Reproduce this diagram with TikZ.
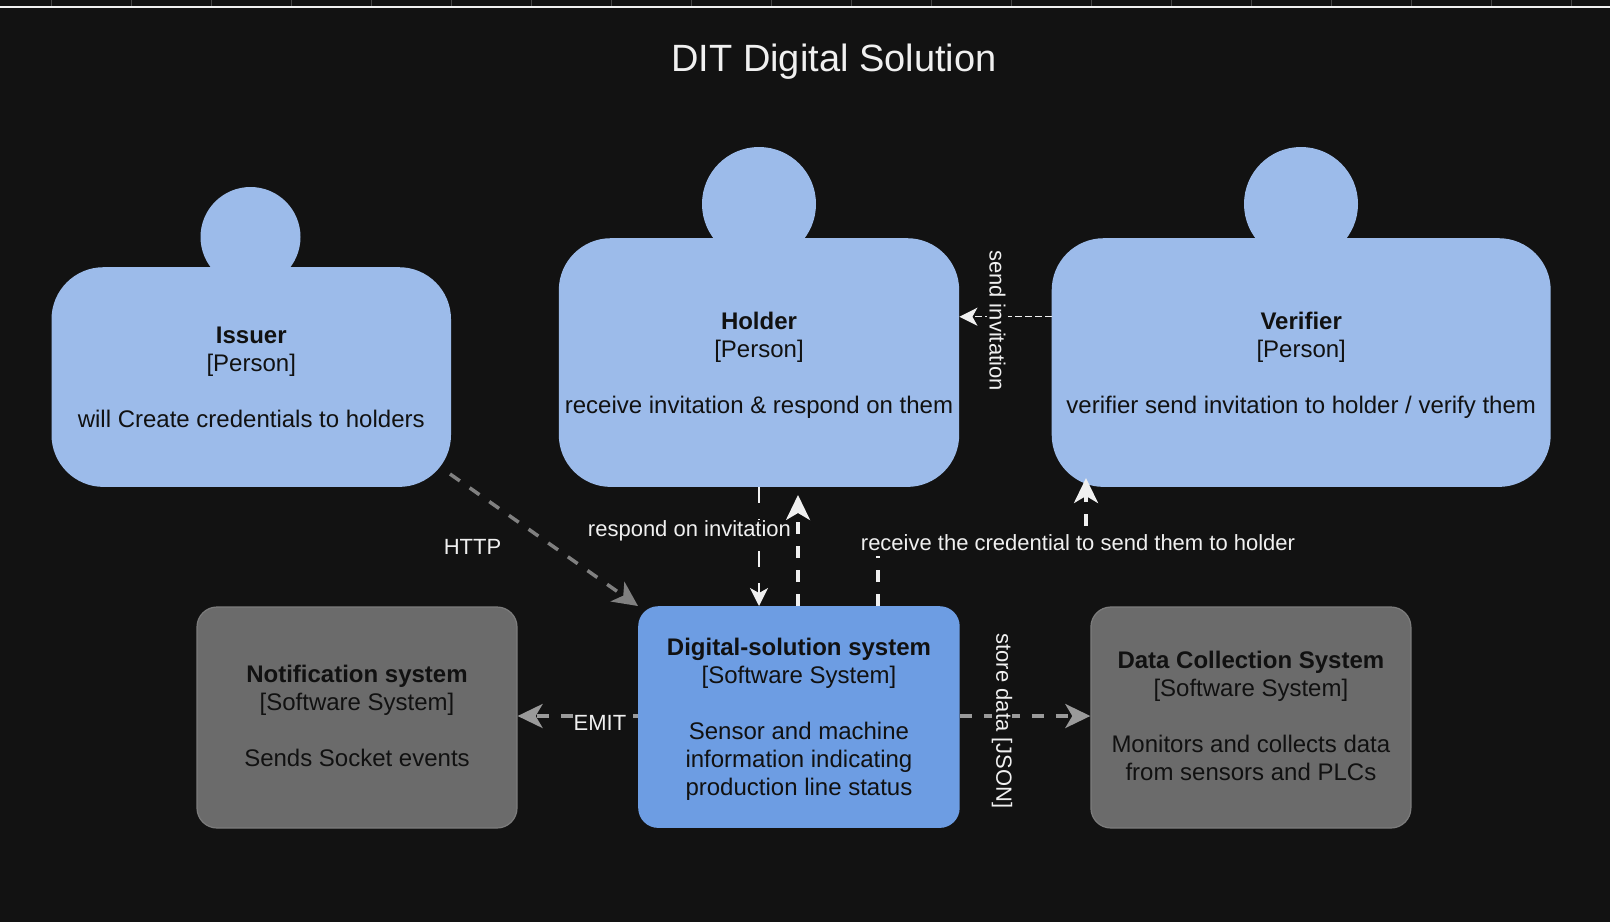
\documentclass[tikz,border=0pt]{standalone}
\usepackage{fontspec}
\setmainfont{Liberation Sans}
\usetikzlibrary{arrows.meta,positioning,calc}
\definecolor{bgc}{HTML}{121212}
\definecolor{personc}{HTML}{9CBBEA}
\definecolor{sysc}{HTML}{6D9DE3}
\definecolor{extc}{HTML}{6B6B6B}
\definecolor{extb}{HTML}{7C7C7C}
\definecolor{inkc}{HTML}{111111}
\definecolor{wc}{HTML}{F0F0F0}
\definecolor{g1}{HTML}{9A9A9A}
\definecolor{g2}{HTML}{808080}
\tikzset{
  x=1pt,y=-1pt,
  body/.style={font=\fontsize{24}{28}\selectfont,text=inkc,align=center,inner sep=0pt,anchor=north west},
  personbody/.style={body,fill=personc,rounded corners=52pt},
  head/.style={circle,fill=personc,inner sep=0pt},
  sysbox/.style={body,fill=sysc,rounded corners=20pt},
  extbox/.style={body,fill=extc,draw=extb,line width=1.2pt,rounded corners=20pt},
  lab/.style={font=\fontsize{22}{26}\selectfont,text=wc,fill=bgc,inner xsep=0pt,inner ysep=1pt},
  thinwire/.style={draw=wc,line width=1.5pt,-{Stealth[length=18pt,width=18pt,inset=5pt]}},
  thickwire/.style={line width=3.5pt,dash pattern=on 12pt off 12pt,-{Stealth[length=25pt,width=24pt,inset=7pt]}},
}
\newcommand{\downtxt}{\rule{0pt}{22pt}}
\newcommand{\uptxt}{\rule[-3pt]{0pt}{0pt}}
\begin{document}
\begin{tikzpicture}
\useasboundingbox (0,0) rectangle (1610,922);
\fill[bgc] (0,0) rectangle (1610,922);
% top ruler
\foreach \i in {0,...,19}{\draw[draw=white!22!bgc,line width=1pt] ({51+80*\i},0) -- ({51+80*\i},6);}
\draw[draw=wc,line width=2pt] (0,6.8) -- (1610,6.8);

\node[font=\fontsize{38}{44}\selectfont,text=wc,inner sep=0pt] (title) at (834,62) {DIT Digital Solution};

% heads
\node[head,minimum size=100pt] (issuerhead) at (250.5,237) {};
\node[head,minimum size=114pt] (holderhead) at (759,204) {};
\node[head,minimum size=114pt] (verifierhead) at (1301,204) {};

% persons
\node[personbody,minimum width=399.5pt,minimum height=219.7pt] (issuer) at (51.3,267)
  {\textbf{Issuer}\\ {[Person]}\\[28pt] will Create credentials to holders};
\node[personbody,minimum width=400.4pt,minimum height=248.7pt] (holder) at (558.6,238)
  {\downtxt\textbf{Holder}\\ {[Person]}\\[28pt] receive invitation \& respond on them};
\node[personbody,minimum width=499pt,minimum height=248.7pt] (verifier) at (1051.5,238)
  {\downtxt\textbf{Verifier}\\ {[Person]}\\[28pt] verifier send invitation to holder / verify them};

% systems
\node[sysbox,minimum width=321.5pt,minimum height=221.7pt] (digital) at (638,606)
  {\downtxt\textbf{Digital-solution system}\\ {[Software System]}\\[28pt] Sensor and machine\\ information indicating\\ production line status};
\node[extbox,minimum width=320pt,minimum height=221pt] (notif) at (196.4,606.4)
  {\textbf{Notification system}\\ {[Software System]}\\[28pt] Sends Socket events\uptxt};
\node[extbox,minimum width=320pt,minimum height=221pt] (datacol) at (1090.3,606.4)
  {\textbf{Data Collection System}\\ {[Software System]}\\[28pt] Monitors and collects data\\ from sensors and PLCs\uptxt};

% connector ends
\coordinate (httpstart) at (450,474);
\coordinate (thinx) at (759,0);
\coordinate (thickx) at (798,0);
\coordinate (credx) at (878,0);
\coordinate (credy) at (0,542);
\coordinate (credup) at (1086,478);
\coordinate (lefty) at (0,716);
\coordinate (invy) at (0,316.7);
\coordinate (holdertop) at (798,495);

% connectors
\draw[thickwire,draw=g2,g2] (httpstart) -- (digital.north west);
\draw[thinwire,dash pattern=on 16pt off 16pt] (holder.south -| thinx) -- (digital.north -| thinx);
\draw[thickwire,draw=wc,wc] (digital.north -| thickx) -- (holdertop);
\draw[thickwire,draw=wc,wc] (digital.north -| credx) -- (credx |- credy) -- (credup |- credy) -- (credup);
\draw[thickwire,draw=g1,g1,dash phase=7pt] (digital.west |- lefty) -- (notif.east |- lefty);
\draw[thickwire,draw=g1,g1] (digital.east |- lefty) -- (datacol.west |- lefty);
\draw[thinwire,dash pattern=on 7pt off 3pt] (verifier.west |- invy) -- (holder.east |- invy);

% labels
\node[lab] (lhttp) at (472.5,547) {HTTP};
\node[lab] (lresp) at (689.5,531) {respond on invitation};
\node[lab,minimum height=26pt] (lcred) at (1078,543) {receive the credential to send them to holder};
\node[lab] (lemit) at (600,723) {EMIT};
\node[lab,rotate=-90,inner ysep=0pt] (lstore) at (1002,721) {store data [JSON]};
\node[lab,rotate=-90,inner ysep=2.5pt] (lsend) at (997.5,320.5) {send invitation};
\end{tikzpicture}
\end{document}
